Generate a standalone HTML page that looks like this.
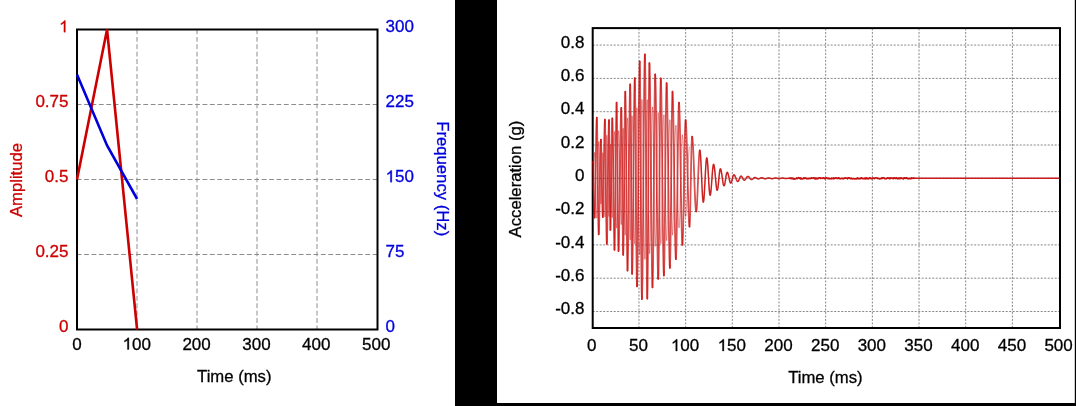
<!DOCTYPE html>
<html><head><meta charset="utf-8"><style>
html,body{margin:0;padding:0;background:#fff;}
body{width:1076px;height:406px;overflow:hidden;}
svg{display:block;font-family:"Liberation Sans", sans-serif;will-change:transform;}
</style></head><body>
<svg width="1076" height="406" viewBox="0 0 1076 406">
<defs><filter id="sb" filterUnits="userSpaceOnUse" x="0" y="0" width="1076" height="406"><feGaussianBlur stdDeviation="0.35"/></filter></defs>
<line x1="137.00" y1="29.5" x2="137.00" y2="329.5" stroke="#999" stroke-width="1.1" stroke-dasharray="4.8 2.6"/>
<line x1="197.00" y1="29.5" x2="197.00" y2="329.5" stroke="#999" stroke-width="1.1" stroke-dasharray="4.8 2.6"/>
<line x1="257.00" y1="29.5" x2="257.00" y2="329.5" stroke="#999" stroke-width="1.1" stroke-dasharray="4.8 2.6"/>
<line x1="317.00" y1="29.5" x2="317.00" y2="329.5" stroke="#999" stroke-width="1.1" stroke-dasharray="4.8 2.6"/>
<line x1="377.5" y1="254.50" x2="77.0" y2="254.50" stroke="#8c8c8c" stroke-width="1.1" stroke-dasharray="4.8 2.6"/>
<line x1="377.5" y1="179.50" x2="77.0" y2="179.50" stroke="#8c8c8c" stroke-width="1.1" stroke-dasharray="4.8 2.6"/>
<line x1="377.5" y1="104.50" x2="77.0" y2="104.50" stroke="#8c8c8c" stroke-width="1.1" stroke-dasharray="4.8 2.6"/>
<rect x="77.0" y="29.5" width="300.5" height="300.0" fill="none" stroke="#000" stroke-width="2"/>
<polyline points="77.00,179.50 107.05,29.50 137.10,329.50" fill="none" stroke="#cc0000" stroke-width="2.6"/>
<polyline points="77.00,74.50 107.05,145.50 137.10,199.00" fill="none" stroke="#0000dd" stroke-width="2.6"/>
<text x="59.05" y="332.20" fill="#cc0000" stroke="#cc0000" stroke-width="0.3" font-size="17">0</text>
<text x="35.41" y="257.20" fill="#cc0000" stroke="#cc0000" stroke-width="0.3" font-size="17">0.25</text>
<text x="44.87" y="182.20" fill="#cc0000" stroke="#cc0000" stroke-width="0.3" font-size="17">0.5</text>
<text x="35.41" y="107.20" fill="#cc0000" stroke="#cc0000" stroke-width="0.3" font-size="17">0.75</text>
<text x="59.05" y="32.20" fill="#cc0000" stroke="#cc0000" stroke-width="0.3" font-size="17"> </text>
<path d="M763 0L583 0L583 1102C540 1063 483 1023 413 983C343 944 280 914 223 895L223 1062C320 1106 404 1159 477 1221C550 1284 601 1344 631 1409L763 1409Z" transform="translate(59.05,32.20) scale(0.008301,-0.008301)" fill="#cc0000" stroke="#cc0000" stroke-width="36.1"/>
<text x="385.50" y="332.20" fill="#0000dd" stroke="#0000dd" stroke-width="0.3" font-size="17">0</text>
<text x="385.50" y="257.20" fill="#0000dd" stroke="#0000dd" stroke-width="0.3" font-size="17">75</text>
<text x="385.50" y="182.20" fill="#0000dd" stroke="#0000dd" stroke-width="0.3" font-size="17"> 50</text>
<path d="M763 0L583 0L583 1102C540 1063 483 1023 413 983C343 944 280 914 223 895L223 1062C320 1106 404 1159 477 1221C550 1284 601 1344 631 1409L763 1409Z" transform="translate(385.50,182.20) scale(0.008301,-0.008301)" fill="#0000dd" stroke="#0000dd" stroke-width="36.1"/>
<text x="385.50" y="107.20" fill="#0000dd" stroke="#0000dd" stroke-width="0.3" font-size="17">225</text>
<text x="385.50" y="32.20" fill="#0000dd" stroke="#0000dd" stroke-width="0.3" font-size="17">300</text>
<text x="72.17" y="349.50" fill="#000" stroke="#000" stroke-width="0.3" font-size="17">0</text>
<text x="122.57" y="349.50" fill="#000" stroke="#000" stroke-width="0.3" font-size="17"> 00</text>
<path d="M763 0L583 0L583 1102C540 1063 483 1023 413 983C343 944 280 914 223 895L223 1062C320 1106 404 1159 477 1221C550 1284 601 1344 631 1409L763 1409Z" transform="translate(122.57,349.50) scale(0.008301,-0.008301)" fill="#000" stroke="#000" stroke-width="36.1"/>
<text x="182.42" y="349.50" fill="#000" stroke="#000" stroke-width="0.3" font-size="17">200</text>
<text x="242.27" y="349.50" fill="#000" stroke="#000" stroke-width="0.3" font-size="17">300</text>
<text x="302.12" y="349.50" fill="#000" stroke="#000" stroke-width="0.3" font-size="17">400</text>
<text x="361.97" y="349.50" fill="#000" stroke="#000" stroke-width="0.3" font-size="17">500</text>
<text x="234.3" y="382" text-anchor="middle" fill="#000" stroke="#000" stroke-width="0.3" font-size="16.7">Time (ms)</text>
<text transform="translate(22,180) rotate(-90)" text-anchor="middle" fill="#cc0000" stroke="#cc0000" stroke-width="0.3" font-size="16.7">Amplitude</text>
<text transform="translate(437.2,178.75) rotate(90)" text-anchor="middle" fill="#0000dd" stroke="#0000dd" stroke-width="0.3" font-size="16.7">Frequency (Hz)</text>
<rect x="455" y="0" width="42" height="406" fill="#000"/>
<rect x="497" y="403" width="579" height="3" fill="#000"/>
<rect x="1074.8" y="0" width="1.2" height="406" fill="#000"/>
<line x1="638.97" y1="28.45" x2="638.97" y2="328.15" stroke="#888" stroke-width="1" stroke-dasharray="2 1.5"/>
<line x1="685.65" y1="28.45" x2="685.65" y2="328.15" stroke="#888" stroke-width="1" stroke-dasharray="2 1.5"/>
<line x1="732.32" y1="28.45" x2="732.32" y2="328.15" stroke="#888" stroke-width="1" stroke-dasharray="2 1.5"/>
<line x1="779.00" y1="28.45" x2="779.00" y2="328.15" stroke="#888" stroke-width="1" stroke-dasharray="2 1.5"/>
<line x1="825.67" y1="28.45" x2="825.67" y2="328.15" stroke="#888" stroke-width="1" stroke-dasharray="2 1.5"/>
<line x1="872.35" y1="28.45" x2="872.35" y2="328.15" stroke="#888" stroke-width="1" stroke-dasharray="2 1.5"/>
<line x1="919.02" y1="28.45" x2="919.02" y2="328.15" stroke="#888" stroke-width="1" stroke-dasharray="2 1.5"/>
<line x1="965.70" y1="28.45" x2="965.70" y2="328.15" stroke="#888" stroke-width="1" stroke-dasharray="2 1.5"/>
<line x1="1012.38" y1="28.45" x2="1012.38" y2="328.15" stroke="#888" stroke-width="1" stroke-dasharray="2 1.5"/>
<line x1="592.7" y1="311.50" x2="1059.6" y2="311.50" stroke="#888" stroke-width="1" stroke-dasharray="2 1.5"/>
<line x1="592.7" y1="278.20" x2="1059.6" y2="278.20" stroke="#888" stroke-width="1" stroke-dasharray="2 1.5"/>
<line x1="592.7" y1="244.90" x2="1059.6" y2="244.90" stroke="#888" stroke-width="1" stroke-dasharray="2 1.5"/>
<line x1="592.7" y1="211.60" x2="1059.6" y2="211.60" stroke="#888" stroke-width="1" stroke-dasharray="2 1.5"/>
<line x1="592.7" y1="178.30" x2="1059.6" y2="178.30" stroke="#888" stroke-width="1" stroke-dasharray="2 1.5"/>
<line x1="592.7" y1="145.00" x2="1059.6" y2="145.00" stroke="#888" stroke-width="1" stroke-dasharray="2 1.5"/>
<line x1="592.7" y1="111.70" x2="1059.6" y2="111.70" stroke="#888" stroke-width="1" stroke-dasharray="2 1.5"/>
<line x1="592.7" y1="78.40" x2="1059.6" y2="78.40" stroke="#888" stroke-width="1" stroke-dasharray="2 1.5"/>
<line x1="592.7" y1="45.10" x2="1059.6" y2="45.10" stroke="#888" stroke-width="1" stroke-dasharray="2 1.5"/>
<rect x="592.7" y="28.1" width="467.30" height="299.90" fill="none" stroke="#000" stroke-width="2"/>
<polyline points="592.80,189.12 593.06,187.32 593.31,182.28 593.57,174.99 593.83,166.89 594.09,159.60 594.34,154.56 594.60,152.76" fill="none" stroke="#c80a0a" stroke-opacity="0.35" stroke-width="1.2" stroke-linejoin="round" stroke-linecap="round" filter="url(#sb)"/>
<polyline points="594.60,152.76 594.88,155.23 595.15,162.27 595.42,172.80 595.70,185.23 595.98,197.65 596.25,208.18 596.52,215.22 596.80,217.69" fill="none" stroke="#c80a0a" stroke-opacity="0.35" stroke-width="1.2" stroke-linejoin="round" stroke-linecap="round" filter="url(#sb)"/>
<polyline points="596.80,217.69 597.07,213.94 597.34,203.41 597.61,188.20 597.89,171.32 598.16,156.11 598.43,145.58 598.70,141.83" fill="none" stroke="#c80a0a" stroke-opacity="0.35" stroke-width="1.2" stroke-linejoin="round" stroke-linecap="round" filter="url(#sb)"/>
<polyline points="598.70,141.83 598.98,144.18 599.25,150.86 599.52,160.87 599.80,172.67 600.08,184.48 600.35,194.48 600.62,201.17 600.90,203.52" fill="none" stroke="#c80a0a" stroke-opacity="0.35" stroke-width="1.2" stroke-linejoin="round" stroke-linecap="round" filter="url(#sb)"/>
<polyline points="600.90,203.52 601.17,201.02 601.44,194.02 601.71,183.91 601.99,172.69 602.26,162.58 602.53,155.58 602.80,153.08" fill="none" stroke="#c80a0a" stroke-opacity="0.35" stroke-width="1.2" stroke-linejoin="round" stroke-linecap="round" filter="url(#sb)"/>
<polyline points="602.80,153.08 603.06,155.49 603.32,162.36 603.59,172.63 603.85,184.74 604.11,196.85 604.38,207.12 604.64,213.99 604.90,216.40" fill="none" stroke="#c80a0a" stroke-opacity="0.35" stroke-width="1.2" stroke-linejoin="round" stroke-linecap="round" filter="url(#sb)"/>
<polyline points="604.90,216.40 605.17,212.40 605.44,201.20 605.71,185.01 605.99,167.04 606.26,150.86 606.53,139.66 606.80,135.66" fill="none" stroke="#c80a0a" stroke-opacity="0.35" stroke-width="1.2" stroke-linejoin="round" stroke-linecap="round" filter="url(#sb)"/>
<polyline points="606.80,135.66 607.07,138.72 607.35,147.44 607.62,160.48 607.90,175.86 608.17,191.25 608.45,204.29 608.73,213.01 609.00,216.07" fill="none" stroke="#c80a0a" stroke-opacity="0.35" stroke-width="1.2" stroke-linejoin="round" stroke-linecap="round" filter="url(#sb)"/>
<polyline points="609.00,216.07 609.28,209.26 609.56,191.43 609.84,169.39 610.12,151.56 610.40,144.75" fill="none" stroke="#c80a0a" stroke-opacity="0.35" stroke-width="1.2" stroke-linejoin="round" stroke-linecap="round" filter="url(#sb)"/>
<polyline points="610.40,144.75 610.67,148.34 610.94,158.40 611.21,172.94 611.49,189.07 611.76,203.61 612.03,213.67 612.30,217.26" fill="none" stroke="#c80a0a" stroke-opacity="0.35" stroke-width="1.2" stroke-linejoin="round" stroke-linecap="round" filter="url(#sb)"/>
<polyline points="612.30,217.26 612.57,214.01 612.85,204.74 613.12,190.87 613.40,174.51 613.67,158.15 613.95,144.28 614.23,135.02 614.50,131.76" fill="none" stroke="#c80a0a" stroke-opacity="0.35" stroke-width="1.2" stroke-linejoin="round" stroke-linecap="round" filter="url(#sb)"/>
<polyline points="614.50,131.76 614.76,135.41 615.02,145.79 615.29,161.33 615.55,179.65 615.81,197.98 616.08,213.52 616.34,223.90 616.60,227.54" fill="none" stroke="#c80a0a" stroke-opacity="0.35" stroke-width="1.2" stroke-linejoin="round" stroke-linecap="round" filter="url(#sb)"/>
<polyline points="616.60,227.54 616.87,222.76 617.14,209.37 617.41,190.01 617.69,168.53 617.96,149.18 618.23,135.79 618.50,131.01" fill="none" stroke="#c80a0a" stroke-opacity="0.35" stroke-width="1.2" stroke-linejoin="round" stroke-linecap="round" filter="url(#sb)"/>
<polyline points="618.50,131.01 618.75,132.89 619.01,138.39 619.26,147.07 619.52,158.21 619.77,170.92 620.03,184.17 620.28,196.87 620.54,208.02 620.79,216.69 621.05,222.19 621.30,224.08" fill="none" stroke="#c80a0a" stroke-opacity="0.35" stroke-width="1.2" stroke-linejoin="round" stroke-linecap="round" filter="url(#sb)"/>
<polyline points="621.30,224.08 621.57,219.35 621.84,206.09 622.11,186.93 622.39,165.67 622.66,146.51 622.93,133.25 623.20,128.52" fill="none" stroke="#c80a0a" stroke-opacity="0.35" stroke-width="1.2" stroke-linejoin="round" stroke-linecap="round" filter="url(#sb)"/>
<polyline points="623.20,128.52 623.46,132.56 623.73,144.06 623.99,161.29 624.25,181.60 624.51,201.92 624.77,219.14 625.04,230.64 625.30,234.69" fill="none" stroke="#c80a0a" stroke-opacity="0.35" stroke-width="1.2" stroke-linejoin="round" stroke-linecap="round" filter="url(#sb)"/>
<polyline points="625.30,234.69 625.57,230.25 625.85,217.63 626.12,198.74 626.40,176.46 626.67,154.18 626.95,135.29 627.23,122.67 627.50,118.24" fill="none" stroke="#c80a0a" stroke-opacity="0.35" stroke-width="1.2" stroke-linejoin="round" stroke-linecap="round" filter="url(#sb)"/>
<polyline points="627.50,118.24 627.77,121.20 628.04,129.81 628.31,143.22 628.58,160.11 628.85,178.84 629.12,197.57 629.39,214.46 629.66,227.87 629.93,236.48 630.20,239.45" fill="none" stroke="#c80a0a" stroke-opacity="0.35" stroke-width="1.2" stroke-linejoin="round" stroke-linecap="round" filter="url(#sb)"/>
<polyline points="630.20,239.45 630.47,233.34 630.74,216.24 631.01,191.53 631.29,164.10 631.56,139.38 631.83,122.28 632.10,116.18" fill="none" stroke="#c80a0a" stroke-opacity="0.35" stroke-width="1.2" stroke-linejoin="round" stroke-linecap="round" filter="url(#sb)"/>
<polyline points="632.10,116.18 632.37,119.29 632.64,128.33 632.91,142.41 633.18,160.15 633.45,179.82 633.72,199.48 633.99,217.22 634.26,231.30 634.53,240.34 634.80,243.45" fill="none" stroke="#c80a0a" stroke-opacity="0.35" stroke-width="1.2" stroke-linejoin="round" stroke-linecap="round" filter="url(#sb)"/>
<polyline points="634.80,243.45 635.07,238.30 635.35,223.62 635.62,201.66 635.90,175.76 636.17,149.85 636.45,127.89 636.73,113.21 637.00,108.06" fill="none" stroke="#c80a0a" stroke-opacity="0.35" stroke-width="1.2" stroke-linejoin="round" stroke-linecap="round" filter="url(#sb)"/>
<polyline points="637.00,108.06 637.27,111.64 637.54,122.03 637.81,138.22 638.08,158.61 638.35,181.22 638.62,203.83 638.89,224.22 639.16,240.41 639.43,250.80 639.70,254.38" fill="none" stroke="#c80a0a" stroke-opacity="0.35" stroke-width="1.2" stroke-linejoin="round" stroke-linecap="round" filter="url(#sb)"/>
<polyline points="639.70,254.38 639.98,248.50 640.25,231.73 640.52,206.65 640.80,177.06 641.08,147.46 641.35,122.38 641.62,105.61 641.90,99.73" fill="none" stroke="#c80a0a" stroke-opacity="0.35" stroke-width="1.2" stroke-linejoin="round" stroke-linecap="round" filter="url(#sb)"/>
<polyline points="641.90,99.73 642.15,102.44 642.40,110.39 642.65,123.03 642.90,139.50 643.15,158.69 643.40,179.27 643.65,199.86 643.90,219.05 644.15,235.52 644.40,248.16 644.65,256.11 644.90,258.82" fill="none" stroke="#c80a0a" stroke-opacity="0.35" stroke-width="1.2" stroke-linejoin="round" stroke-linecap="round" filter="url(#sb)"/>
<polyline points="644.90,258.82 645.17,254.03 645.43,240.25 645.70,219.13 645.97,193.22 646.23,165.65 646.50,139.74 646.77,118.63 647.03,104.84 647.30,100.05" fill="none" stroke="#c80a0a" stroke-opacity="0.35" stroke-width="1.2" stroke-linejoin="round" stroke-linecap="round" filter="url(#sb)"/>
<polyline points="647.30,100.05 647.56,105.88 647.82,122.48 648.09,147.32 648.35,176.62 648.61,205.92 648.88,230.77 649.14,247.36 649.40,253.19" fill="none" stroke="#c80a0a" stroke-opacity="0.35" stroke-width="1.2" stroke-linejoin="round" stroke-linecap="round" filter="url(#sb)"/>
<polyline points="649.40,253.19 649.66,250.71 649.92,243.42 650.17,231.83 650.43,216.72 650.69,199.13 650.95,180.25 651.21,161.37 651.47,143.78 651.73,128.67 651.98,117.08 652.24,109.79 652.50,107.30" fill="none" stroke="#c80a0a" stroke-opacity="0.35" stroke-width="1.2" stroke-linejoin="round" stroke-linecap="round" filter="url(#sb)"/>
<polyline points="652.50,107.30 652.77,110.69 653.04,120.53 653.31,135.86 653.58,155.16 653.85,176.57 654.12,197.97 654.39,217.28 654.66,232.60 654.93,242.44 655.20,245.83" fill="none" stroke="#c80a0a" stroke-opacity="0.35" stroke-width="1.2" stroke-linejoin="round" stroke-linecap="round" filter="url(#sb)"/>
<polyline points="655.20,245.83 655.45,243.57 655.70,236.93 655.95,226.37 656.20,212.61 656.45,196.58 656.70,179.38 656.95,162.18 657.20,146.16 657.45,132.39 657.70,121.83 657.95,115.20 658.20,112.93" fill="none" stroke="#c80a0a" stroke-opacity="0.35" stroke-width="1.2" stroke-linejoin="round" stroke-linecap="round" filter="url(#sb)"/>
<polyline points="658.20,112.93 658.46,116.12 658.72,125.37 658.98,139.79 659.24,157.95 659.50,178.08 659.76,198.22 660.02,216.38 660.28,230.79 660.54,240.05 660.80,243.24" fill="none" stroke="#c80a0a" stroke-opacity="0.35" stroke-width="1.2" stroke-linejoin="round" stroke-linecap="round" filter="url(#sb)"/>
<polyline points="660.80,243.24 661.06,241.05 661.32,234.65 661.57,224.47 661.83,211.20 662.09,195.75 662.35,179.17 662.61,162.58 662.87,147.13 663.12,133.86 663.38,123.68 663.64,117.28 663.90,115.10" fill="none" stroke="#c80a0a" stroke-opacity="0.35" stroke-width="1.2" stroke-linejoin="round" stroke-linecap="round" filter="url(#sb)"/>
<polyline points="663.90,115.10 664.17,118.16 664.44,127.04 664.71,140.88 664.98,158.32 665.25,177.65 665.52,196.98 665.79,214.42 666.06,228.26 666.33,237.14 666.60,240.20" fill="none" stroke="#c80a0a" stroke-opacity="0.35" stroke-width="1.2" stroke-linejoin="round" stroke-linecap="round" filter="url(#sb)"/>
<polyline points="666.60,240.20 666.85,238.46 667.11,233.32 667.36,225.10 667.62,214.26 667.87,201.44 668.12,187.38 668.38,172.90 668.63,158.84 668.88,146.02 669.14,135.18 669.39,126.96 669.65,121.82 669.90,120.07" fill="none" stroke="#c80a0a" stroke-opacity="0.35" stroke-width="1.2" stroke-linejoin="round" stroke-linecap="round" filter="url(#sb)"/>
<polyline points="669.90,120.07 670.16,122.88 670.42,131.01 670.68,143.67 670.94,159.63 671.20,177.33 671.46,195.02 671.72,210.98 671.98,223.64 672.24,231.77 672.50,234.58" fill="none" stroke="#c80a0a" stroke-opacity="0.35" stroke-width="1.2" stroke-linejoin="round" stroke-linecap="round" filter="url(#sb)"/>
<polyline points="672.50,234.58 672.76,233.00 673.02,228.34 673.28,220.89 673.55,211.06 673.81,199.44 674.07,186.70 674.33,173.58 674.59,160.84 674.85,149.22 675.12,139.39 675.38,131.94 675.64,127.28 675.90,125.70" fill="none" stroke="#c80a0a" stroke-opacity="0.35" stroke-width="1.2" stroke-linejoin="round" stroke-linecap="round" filter="url(#sb)"/>
<polyline points="675.90,125.70 676.16,127.44 676.42,132.52 676.67,140.60 676.93,151.14 677.19,163.40 677.45,176.57 677.71,189.73 677.97,202.00 678.23,212.54 678.48,220.62 678.74,225.70 679.00,227.43" fill="none" stroke="#c80a0a" stroke-opacity="0.35" stroke-width="1.2" stroke-linejoin="round" stroke-linecap="round" filter="url(#sb)"/>
<polyline points="679.00,227.43 679.26,226.09 679.52,222.14 679.78,215.81 680.05,207.47 680.31,197.61 680.57,186.79 680.83,175.65 681.09,164.84 681.35,154.97 681.62,146.63 681.88,140.30 682.14,136.35 682.40,135.01" fill="none" stroke="#c80a0a" stroke-opacity="0.35" stroke-width="1.2" stroke-linejoin="round" stroke-linecap="round" filter="url(#sb)"/>
<polyline points="682.40,135.01 682.67,136.39 682.93,140.45 683.20,146.90 683.47,155.30 683.73,165.09 684.00,175.59 684.27,186.10 684.53,195.89 684.80,204.29 685.07,210.74 685.33,214.80 685.60,216.18" fill="none" stroke="#c80a0a" stroke-opacity="0.35" stroke-width="1.2" stroke-linejoin="round" stroke-linecap="round" filter="url(#sb)"/>
<polyline points="685.60,216.18 685.86,215.42 686.12,213.18 686.38,209.56 686.64,204.72 686.90,198.86 687.16,192.25 687.42,185.17 687.68,177.93 687.94,170.84 688.20,164.23 688.46,158.37 688.72,153.53 688.98,149.91 689.24,147.67 689.50,146.91" fill="none" stroke="#c80a0a" stroke-opacity="0.35" stroke-width="1.2" stroke-linejoin="round" stroke-linecap="round" filter="url(#sb)"/>
<polyline points="592.80,161.65 593.06,164.42 593.31,172.18 593.57,183.40 593.83,195.85 594.09,207.06 594.34,214.82 594.60,217.59" fill="none" stroke="#c80a0a" stroke-opacity="0.72" stroke-width="1.7" stroke-linejoin="round" stroke-linecap="round" filter="url(#sb)"/>
<polyline points="594.60,217.59 594.88,213.79 595.15,202.96 595.42,186.76 595.70,167.64 595.98,148.53 596.25,132.32 596.52,121.50 596.80,117.69" fill="none" stroke="#c80a0a" stroke-opacity="0.72" stroke-width="1.7" stroke-linejoin="round" stroke-linecap="round" filter="url(#sb)"/>
<polyline points="596.80,117.69 597.07,123.47 597.34,139.67 597.61,163.07 597.89,189.04 598.16,212.44 598.43,228.63 598.70,234.41" fill="none" stroke="#c80a0a" stroke-opacity="0.72" stroke-width="1.7" stroke-linejoin="round" stroke-linecap="round" filter="url(#sb)"/>
<polyline points="598.70,234.41 598.98,230.80 599.25,220.51 599.52,205.12 599.80,186.96 600.08,168.80 600.35,153.40 600.62,143.12 600.90,139.51" fill="none" stroke="#c80a0a" stroke-opacity="0.72" stroke-width="1.7" stroke-linejoin="round" stroke-linecap="round" filter="url(#sb)"/>
<polyline points="600.90,139.51 601.17,143.35 601.44,154.11 601.71,169.67 601.99,186.93 602.26,202.49 602.53,213.25 602.80,217.09" fill="none" stroke="#c80a0a" stroke-opacity="0.72" stroke-width="1.7" stroke-linejoin="round" stroke-linecap="round" filter="url(#sb)"/>
<polyline points="602.80,217.09 603.06,213.39 603.32,202.83 603.59,187.03 603.85,168.39 604.11,149.76 604.38,133.96 604.64,123.40 604.90,119.69" fill="none" stroke="#c80a0a" stroke-opacity="0.72" stroke-width="1.7" stroke-linejoin="round" stroke-linecap="round" filter="url(#sb)"/>
<polyline points="604.90,119.69 605.17,125.84 605.44,143.07 605.71,167.98 605.99,195.62 606.26,220.52 606.53,237.75 606.80,243.90" fill="none" stroke="#c80a0a" stroke-opacity="0.72" stroke-width="1.7" stroke-linejoin="round" stroke-linecap="round" filter="url(#sb)"/>
<polyline points="606.80,243.90 607.07,239.19 607.35,225.78 607.62,205.72 607.90,182.05 608.17,158.38 608.45,138.31 608.73,124.90 609.00,120.19" fill="none" stroke="#c80a0a" stroke-opacity="0.72" stroke-width="1.7" stroke-linejoin="round" stroke-linecap="round" filter="url(#sb)"/>
<polyline points="609.00,120.19 609.28,130.67 609.56,158.10 609.84,192.01 610.12,219.44 610.40,229.92" fill="none" stroke="#c80a0a" stroke-opacity="0.72" stroke-width="1.7" stroke-linejoin="round" stroke-linecap="round" filter="url(#sb)"/>
<polyline points="610.40,229.92 610.67,224.39 610.94,208.91 611.21,186.55 611.49,161.73 611.76,139.36 612.03,123.88 612.30,118.36" fill="none" stroke="#c80a0a" stroke-opacity="0.72" stroke-width="1.7" stroke-linejoin="round" stroke-linecap="round" filter="url(#sb)"/>
<polyline points="612.30,118.36 612.57,123.37 612.85,137.62 613.12,158.96 613.40,184.13 613.67,209.30 613.95,230.63 614.23,244.89 614.50,249.90" fill="none" stroke="#c80a0a" stroke-opacity="0.72" stroke-width="1.7" stroke-linejoin="round" stroke-linecap="round" filter="url(#sb)"/>
<polyline points="614.50,249.90 614.76,244.29 615.02,228.32 615.29,204.41 615.55,176.22 615.81,148.02 616.08,124.12 616.34,108.15 616.60,102.54" fill="none" stroke="#c80a0a" stroke-opacity="0.72" stroke-width="1.7" stroke-linejoin="round" stroke-linecap="round" filter="url(#sb)"/>
<polyline points="616.60,102.54 616.87,109.90 617.14,130.50 617.41,160.28 617.69,193.33 617.96,223.10 618.23,243.71 618.50,251.06" fill="none" stroke="#c80a0a" stroke-opacity="0.72" stroke-width="1.7" stroke-linejoin="round" stroke-linecap="round" filter="url(#sb)"/>
<polyline points="618.50,251.06 618.75,248.16 619.01,239.70 619.26,226.35 619.52,209.21 619.77,189.65 620.03,169.28 620.28,149.72 620.54,132.58 620.79,119.24 621.05,110.77 621.30,107.87" fill="none" stroke="#c80a0a" stroke-opacity="0.72" stroke-width="1.7" stroke-linejoin="round" stroke-linecap="round" filter="url(#sb)"/>
<polyline points="621.30,107.87 621.57,115.15 621.84,135.55 622.11,165.02 622.39,197.74 622.66,227.21 622.93,247.61 623.20,254.89" fill="none" stroke="#c80a0a" stroke-opacity="0.72" stroke-width="1.7" stroke-linejoin="round" stroke-linecap="round" filter="url(#sb)"/>
<polyline points="623.20,254.89 623.46,248.67 623.73,230.97 623.99,204.47 624.25,173.22 624.51,141.97 624.77,115.47 625.04,97.77 625.30,91.55" fill="none" stroke="#c80a0a" stroke-opacity="0.72" stroke-width="1.7" stroke-linejoin="round" stroke-linecap="round" filter="url(#sb)"/>
<polyline points="625.30,91.55 625.57,98.37 625.85,117.79 626.12,146.85 626.40,181.13 626.67,215.41 626.95,244.47 627.23,263.89 627.50,270.71" fill="none" stroke="#c80a0a" stroke-opacity="0.72" stroke-width="1.7" stroke-linejoin="round" stroke-linecap="round" filter="url(#sb)"/>
<polyline points="627.50,270.71 627.77,266.14 628.04,252.90 628.31,232.27 628.58,206.28 628.85,177.47 629.12,148.65 629.39,122.66 629.66,102.03 629.93,88.79 630.20,84.23" fill="none" stroke="#c80a0a" stroke-opacity="0.72" stroke-width="1.7" stroke-linejoin="round" stroke-linecap="round" filter="url(#sb)"/>
<polyline points="630.20,84.23 630.47,93.62 630.74,119.93 631.01,157.95 631.29,200.15 631.56,238.17 631.83,264.48 632.10,273.87" fill="none" stroke="#c80a0a" stroke-opacity="0.72" stroke-width="1.7" stroke-linejoin="round" stroke-linecap="round" filter="url(#sb)"/>
<polyline points="632.10,273.87 632.37,269.08 632.64,255.17 632.91,233.51 633.18,206.22 633.45,175.97 633.72,145.72 633.99,118.42 634.26,96.76 634.53,82.86 634.80,78.07" fill="none" stroke="#c80a0a" stroke-opacity="0.72" stroke-width="1.7" stroke-linejoin="round" stroke-linecap="round" filter="url(#sb)"/>
<polyline points="634.80,78.07 635.07,85.99 635.35,108.57 635.62,142.36 635.90,182.21 636.17,222.07 636.45,255.85 636.73,278.43 637.00,286.36" fill="none" stroke="#c80a0a" stroke-opacity="0.72" stroke-width="1.7" stroke-linejoin="round" stroke-linecap="round" filter="url(#sb)"/>
<polyline points="637.00,286.36 637.27,280.85 637.54,264.86 637.81,239.96 638.08,208.59 638.35,173.80 638.62,139.02 638.89,107.65 639.16,82.75 639.43,66.76 639.70,61.25" fill="none" stroke="#c80a0a" stroke-opacity="0.72" stroke-width="1.7" stroke-linejoin="round" stroke-linecap="round" filter="url(#sb)"/>
<polyline points="639.70,61.25 639.98,70.31 640.25,96.09 640.52,134.69 640.80,180.21 641.08,225.74 641.35,264.34 641.62,290.12 641.90,299.18" fill="none" stroke="#c80a0a" stroke-opacity="0.72" stroke-width="1.7" stroke-linejoin="round" stroke-linecap="round" filter="url(#sb)"/>
<polyline points="641.90,299.18 642.15,295.01 642.40,282.78 642.65,263.34 642.90,237.99 643.15,208.48 643.40,176.80 643.65,145.13 643.90,115.61 644.15,90.27 644.40,70.82 644.65,58.59 644.90,54.42" fill="none" stroke="#c80a0a" stroke-opacity="0.72" stroke-width="1.7" stroke-linejoin="round" stroke-linecap="round" filter="url(#sb)"/>
<polyline points="644.90,54.42 645.17,61.79 645.43,83.00 645.70,115.49 645.97,155.34 646.23,197.76 646.50,237.62 646.77,270.11 647.03,291.31 647.30,298.68" fill="none" stroke="#c80a0a" stroke-opacity="0.72" stroke-width="1.7" stroke-linejoin="round" stroke-linecap="round" filter="url(#sb)"/>
<polyline points="647.30,298.68 647.56,289.71 647.82,264.18 648.09,225.96 648.35,180.88 648.61,135.80 648.88,97.58 649.14,72.05 649.40,63.08" fill="none" stroke="#c80a0a" stroke-opacity="0.72" stroke-width="1.7" stroke-linejoin="round" stroke-linecap="round" filter="url(#sb)"/>
<polyline points="649.40,63.08 649.66,66.91 649.92,78.12 650.17,95.95 650.43,119.19 650.69,146.26 650.95,175.30 651.21,204.35 651.47,231.41 651.73,254.66 651.98,272.49 652.24,283.70 652.50,287.52" fill="none" stroke="#c80a0a" stroke-opacity="0.72" stroke-width="1.7" stroke-linejoin="round" stroke-linecap="round" filter="url(#sb)"/>
<polyline points="652.50,287.52 652.77,282.31 653.04,267.17 653.31,243.60 653.58,213.89 653.85,180.96 654.12,148.04 654.39,118.33 654.66,94.76 654.93,79.62 655.20,74.40" fill="none" stroke="#c80a0a" stroke-opacity="0.72" stroke-width="1.7" stroke-linejoin="round" stroke-linecap="round" filter="url(#sb)"/>
<polyline points="655.20,74.40 655.45,77.89 655.70,88.10 655.95,104.35 656.20,125.52 656.45,150.18 656.70,176.63 656.95,203.09 657.20,227.75 657.45,248.92 657.70,265.17 657.95,275.38 658.20,278.87" fill="none" stroke="#c80a0a" stroke-opacity="0.72" stroke-width="1.7" stroke-linejoin="round" stroke-linecap="round" filter="url(#sb)"/>
<polyline points="658.20,278.87 658.46,273.96 658.72,259.72 658.98,237.55 659.24,209.61 659.50,178.63 659.76,147.66 660.02,119.72 660.28,97.54 660.54,83.31 660.80,78.40" fill="none" stroke="#c80a0a" stroke-opacity="0.72" stroke-width="1.7" stroke-linejoin="round" stroke-linecap="round" filter="url(#sb)"/>
<polyline points="660.80,78.40 661.06,81.76 661.32,91.61 661.57,107.27 661.83,127.68 662.09,151.46 662.35,176.97 662.61,202.48 662.87,226.25 663.12,246.67 663.38,262.33 663.64,272.18 663.90,275.54" fill="none" stroke="#c80a0a" stroke-opacity="0.72" stroke-width="1.7" stroke-linejoin="round" stroke-linecap="round" filter="url(#sb)"/>
<polyline points="663.90,275.54 664.17,270.83 664.44,257.16 664.71,235.87 664.98,209.04 665.25,179.30 665.52,149.56 665.79,122.73 666.06,101.44 666.33,87.77 666.60,83.06" fill="none" stroke="#c80a0a" stroke-opacity="0.72" stroke-width="1.7" stroke-linejoin="round" stroke-linecap="round" filter="url(#sb)"/>
<polyline points="666.60,83.06 666.85,85.75 667.11,93.65 667.36,106.30 667.62,122.98 667.87,142.70 668.12,164.33 668.38,186.61 668.63,208.24 668.88,227.96 669.14,244.64 669.39,257.29 669.65,265.19 669.90,267.88" fill="none" stroke="#c80a0a" stroke-opacity="0.72" stroke-width="1.7" stroke-linejoin="round" stroke-linecap="round" filter="url(#sb)"/>
<polyline points="669.90,267.88 670.16,263.57 670.42,251.06 670.68,231.57 670.94,207.02 671.20,179.80 671.46,152.58 671.72,128.03 671.98,108.54 672.24,96.03 672.50,91.72" fill="none" stroke="#c80a0a" stroke-opacity="0.72" stroke-width="1.7" stroke-linejoin="round" stroke-linecap="round" filter="url(#sb)"/>
<polyline points="672.50,91.72 672.76,94.15 673.02,101.31 673.28,112.78 673.55,127.89 673.81,145.77 674.07,165.37 674.33,185.56 674.59,205.17 674.85,223.04 675.12,238.16 675.38,249.63 675.64,256.79 675.90,259.22" fill="none" stroke="#c80a0a" stroke-opacity="0.72" stroke-width="1.7" stroke-linejoin="round" stroke-linecap="round" filter="url(#sb)"/>
<polyline points="675.90,259.22 676.16,256.55 676.42,248.73 676.67,236.30 676.93,220.09 677.19,201.22 677.45,180.96 677.71,160.71 677.97,141.84 678.23,125.63 678.48,113.19 678.74,105.38 679.00,102.71" fill="none" stroke="#c80a0a" stroke-opacity="0.72" stroke-width="1.7" stroke-linejoin="round" stroke-linecap="round" filter="url(#sb)"/>
<polyline points="679.00,102.71 679.26,104.77 679.52,110.85 679.78,120.59 680.05,133.42 680.31,148.59 680.57,165.23 680.83,182.37 681.09,199.02 681.35,214.19 681.62,227.02 681.88,236.76 682.14,242.83 682.40,244.90" fill="none" stroke="#c80a0a" stroke-opacity="0.72" stroke-width="1.7" stroke-linejoin="round" stroke-linecap="round" filter="url(#sb)"/>
<polyline points="682.40,244.90 682.67,242.77 682.93,236.53 683.20,226.61 683.47,213.68 683.73,198.62 684.00,182.46 684.27,166.30 684.53,151.24 684.80,138.31 685.07,128.39 685.33,122.15 685.60,120.03" fill="none" stroke="#c80a0a" stroke-opacity="0.72" stroke-width="1.7" stroke-linejoin="round" stroke-linecap="round" filter="url(#sb)"/>
<polyline points="685.60,120.03 685.86,121.19 686.12,124.63 686.38,130.20 686.64,137.65 686.90,146.67 687.16,156.84 687.42,167.74 687.68,178.87 687.94,189.77 688.20,199.94 688.46,208.96 688.72,216.41 688.98,221.98 689.24,225.42 689.50,226.59" fill="none" stroke="#c80a0a" stroke-opacity="0.72" stroke-width="1.7" stroke-linejoin="round" stroke-linecap="round" filter="url(#sb)"/>
<polyline points="689.50,226.59 689.76,224.38 690.02,218.00 690.28,208.05 690.54,195.52 690.80,181.63 691.06,167.74 691.32,155.21 691.58,145.26 691.84,138.88 692.10,136.68" fill="none" stroke="#c80a0a" stroke-opacity="0.72" stroke-width="1.7" stroke-linejoin="round" stroke-linecap="round" filter="url(#sb)"/>
<polyline points="692.10,136.68 692.36,137.39 692.61,139.52 692.87,142.97 693.12,147.62 693.38,153.29 693.64,159.75 693.89,166.76 694.15,174.05 694.41,181.35 694.66,188.36 694.92,194.82 695.18,200.49 695.43,205.13 695.69,208.59 695.94,210.72 696.20,211.43" fill="none" stroke="#c80a0a" stroke-opacity="0.72" stroke-width="1.7" stroke-linejoin="round" stroke-linecap="round" filter="url(#sb)"/>
<polyline points="696.20,211.43 696.46,210.67 696.71,208.41 696.97,204.77 697.23,199.93 697.49,194.14 697.74,187.68 698.00,180.88 698.26,174.08 698.51,167.62 698.77,161.83 699.03,156.99 699.29,153.35 699.54,151.09 699.80,150.33" fill="none" stroke="#c80a0a" stroke-opacity="0.72" stroke-width="1.7" stroke-linejoin="round" stroke-linecap="round" filter="url(#sb)"/>
<polyline points="699.80,150.33 700.05,150.98 700.30,152.89 700.55,155.98 700.80,160.08 701.05,164.99 701.30,170.46 701.55,176.22 701.80,181.98 702.05,187.45 702.30,192.36 702.55,196.46 702.80,199.55 703.05,201.46 703.30,202.11 703.55,201.55 703.80,199.92 704.05,197.28 704.30,193.77 704.55,189.57 704.80,184.89 705.05,179.97 705.30,175.04 705.55,170.36 705.80,166.16 706.05,162.65 706.30,160.01 706.55,158.38 706.80,157.82 707.05,158.36 707.31,159.97 707.56,162.53 707.82,165.91 708.07,169.91 708.32,174.29 708.58,178.81 708.83,183.19 709.08,187.19 709.34,190.57 709.59,193.14 709.85,194.74 710.10,195.28 710.35,194.89 710.60,193.75 710.85,191.90 711.10,189.45 711.35,186.52 711.60,183.24 711.85,179.80 712.10,176.35 712.35,173.08 712.60,170.14 712.85,167.69 713.10,165.85 713.35,164.70 713.60,164.31 713.86,164.64 714.11,165.60 714.37,167.15 714.63,169.20 714.89,171.67 715.14,174.41 715.40,177.30 715.66,180.19 715.91,182.94 716.17,185.40 716.43,187.45 716.69,189.00 716.94,189.96 717.20,190.29 717.47,189.92 717.73,188.85 718.00,187.14 718.27,184.92 718.53,182.33 718.80,179.55 719.07,176.77 719.33,174.18 719.60,171.95 719.87,170.25 720.13,169.18 720.40,168.81 720.66,169.02 720.91,169.65 721.17,170.66 721.43,172.01 721.69,173.62 721.94,175.41 722.20,177.30 722.46,179.19 722.71,180.99 722.97,182.60 723.23,183.94 723.49,184.95 723.74,185.58 724.00,185.79 724.27,185.56 724.53,184.89 724.80,183.82 725.07,182.42 725.33,180.79 725.60,179.05 725.87,177.30 726.13,175.68 726.40,174.28 726.67,173.21 726.93,172.54 727.20,172.31 727.45,172.44 727.70,172.84 727.95,173.48 728.20,174.34 728.45,175.36 728.70,176.50 728.95,177.70 729.20,178.90 729.45,180.04 729.70,181.07 729.95,181.92 730.20,182.57 730.45,182.96 730.70,183.10 730.97,182.96 731.23,182.54 731.50,181.88 731.77,181.03 732.03,180.02 732.30,178.95 732.57,177.88 732.83,176.88 733.10,176.02 733.37,175.36 733.63,174.94 733.90,174.80 734.16,174.87 734.42,175.09 734.68,175.44 734.94,175.91 735.20,176.48 735.46,177.11 735.72,177.80 735.98,178.50 736.24,179.19 736.50,179.83 736.76,180.39 737.02,180.86 737.28,181.21 737.54,181.43 737.80,181.50 738.07,181.41 738.33,181.14 738.60,180.71 738.87,180.15 739.13,179.50 739.40,178.80 739.67,178.10 739.93,177.45 740.20,176.89 740.47,176.46 740.73,176.19 741.00,176.10 741.25,176.16 741.51,176.33 741.76,176.62 742.02,176.99 742.27,177.42 742.52,177.90 742.78,178.40 743.03,178.88 743.28,179.31 743.54,179.68 743.79,179.97 744.05,180.14 744.30,180.20 744.56,180.15 744.81,180.01 745.07,179.79 745.33,179.48 745.59,179.12 745.84,178.72 746.10,178.30 746.36,177.88 746.61,177.48 746.87,177.12 747.13,176.81 747.39,176.59 747.64,176.45 747.90,176.40 748.16,176.44 748.41,176.56 748.67,176.75 748.93,177.00 749.19,177.31 749.44,177.64 749.70,178.00 749.96,178.36 750.21,178.69 750.47,179.00 750.73,179.25 750.99,179.44 751.24,179.56 751.50,179.60 751.75,179.57 752.00,179.50 752.25,179.37 752.50,179.20 752.75,179.01 753.00,178.78 753.25,178.55 753.50,178.32 753.75,178.09 754.00,177.90 754.25,177.73 754.50,177.60 754.75,177.53 755.00,177.50 755.25,177.52 755.51,177.58 755.76,177.68 756.02,177.80 756.27,177.95 756.52,178.12 756.78,178.28 757.03,178.45 757.28,178.60 757.54,178.72 757.79,178.82 758.05,178.88 758.30,178.90 758.56,178.88 758.81,178.84 759.07,178.77 759.33,178.67 759.59,178.56 759.84,178.43 760.10,178.30 760.36,178.17 760.61,178.04 760.87,177.93 761.13,177.83 761.39,177.76 761.64,177.72 761.90,177.70 762.17,177.72 762.43,177.77 762.70,177.86 762.97,177.98 763.23,178.11 763.50,178.25 763.77,178.39 764.03,178.53 764.30,178.64 764.57,178.73 764.83,178.78 765.10,178.80 765.36,178.79 765.61,178.76 765.87,178.70 766.13,178.63 766.39,178.55 766.64,178.45 766.90,178.35 767.16,178.25 767.41,178.15 767.67,178.07 767.93,178.00 768.19,177.94 768.44,177.91 768.70,177.90 768.95,177.91 769.21,177.95 769.46,178.00 769.72,178.07 769.97,178.16 770.22,178.25 770.48,178.35 770.73,178.44 770.98,178.53 771.24,178.60 771.49,178.65 771.75,178.69 772.00,178.70 772.25,178.69 772.50,178.67 772.75,178.62 773.00,178.57 773.25,178.50 773.50,178.43 773.75,178.35 774.00,178.27 774.25,178.20 774.50,178.13 774.75,178.08 775.00,178.03 775.25,178.01 775.50,178.00 775.75,178.01 776.00,178.03 776.25,178.07 776.50,178.11 776.75,178.17 777.00,178.23 777.25,178.30 777.50,178.37 777.75,178.43 778.00,178.49 778.25,178.53 778.50,178.57 778.75,178.59 779.00,178.60 779.25,178.59 779.50,178.57 779.75,178.54 780.00,178.50 780.25,178.44 780.50,178.39 780.75,178.33 781.00,178.26 781.25,178.21 781.50,178.15 781.75,178.11 782.00,178.08 782.25,178.06 782.50,178.05 782.75,178.06 783.00,178.07 783.25,178.10 783.50,178.14 783.75,178.19 784.00,178.24 784.25,178.30 784.50,178.36 784.75,178.41 785.00,178.46 785.25,178.50 785.50,178.53 785.75,178.54 786.00,178.55 786.25,178.54 786.50,178.53 786.75,178.50 787.00,178.47 787.25,178.42 787.50,178.38 787.75,178.33 788.00,178.27 788.25,178.23 788.50,178.18 788.75,178.15 789.00,178.12 789.25,178.11 789.50,178.10" fill="none" stroke="#c80a0a" stroke-opacity="0.92" stroke-width="1.5" stroke-linejoin="round" stroke-linecap="round" filter="url(#sb)"/>
<polyline points="789.50,178.10 790.00,178.40 790.50,178.52 791.00,177.88 791.50,178.57 792.00,178.06 792.50,178.35 793.00,178.83 793.50,178.40 794.00,179.05 794.50,178.62 795.00,179.06 795.50,178.99 796.00,178.50 796.50,177.91 797.00,178.64 797.50,178.44 798.00,177.90 798.50,177.52 799.00,178.01 799.50,178.32 800.00,177.73 800.50,178.95 801.00,178.07 801.50,178.80 802.00,178.97 802.50,178.95 803.00,178.64 803.50,177.92 804.00,178.57 804.50,178.01 805.00,177.89 805.50,178.21 806.00,178.05 806.50,178.72 807.00,178.83 807.50,178.76 808.00,178.28 808.50,178.63 809.00,178.77 809.50,178.39 810.00,178.46 810.50,178.54 811.00,177.84 811.50,177.87 812.00,178.36 812.50,177.97 813.00,178.07 813.50,177.74 814.00,178.02 814.50,178.66 815.00,177.92 815.50,179.00 816.00,178.64 816.50,178.19 817.00,178.83 817.50,178.31 818.00,178.74 818.50,177.90 819.00,177.74 819.50,177.97 820.00,177.85 820.50,178.52 821.00,178.07 821.50,178.19 822.00,178.20 822.50,178.35 823.00,177.89 823.50,177.77 824.00,178.33 824.50,178.10 825.00,178.83 825.50,178.06 826.00,178.12 826.50,177.71 827.00,177.91 827.50,178.56 828.00,178.44 828.50,178.10 829.00,178.87 829.50,178.35 830.00,178.70 830.50,178.76 831.00,178.83 831.50,177.98 832.00,178.74 832.50,178.60 833.00,178.43 833.50,177.85 834.00,178.80 834.50,178.36 835.00,178.24 835.50,177.84 836.00,177.92 836.50,177.86 837.00,178.57 837.50,178.40 838.00,178.47 838.50,177.84 839.00,177.75 839.50,178.72 840.00,178.69 840.50,178.62 841.00,178.62 841.50,178.32 842.00,178.19 842.50,178.58 843.00,178.90 843.50,178.40 844.00,178.46 844.50,178.22 845.00,177.76 845.50,178.07 846.00,178.28 846.50,178.16 847.00,178.09 847.50,178.84 848.00,177.82 848.50,177.96 849.00,177.85 849.50,177.94 850.00,178.43 850.50,178.42 851.00,178.78 851.50,178.14 852.00,178.83 852.50,178.82 853.00,178.65 853.50,178.71 854.00,178.49 854.50,178.84 855.00,178.90 855.50,178.72 856.00,178.78 856.50,178.46 857.00,178.87 857.50,177.85 858.00,178.16 858.50,178.72 859.00,178.60 859.50,178.48 860.00,178.46 860.50,178.75 861.00,177.88 861.50,177.71 862.00,178.34 862.50,178.32 863.00,178.80 863.50,178.78 864.00,178.49 864.50,178.58 865.00,177.91 865.50,178.71 866.00,178.87 866.50,177.76 867.00,178.27 867.50,178.72 868.00,178.25 868.50,178.87 869.00,178.27 869.50,177.73 870.00,177.86 870.50,178.06 871.00,178.59 871.50,178.46 872.00,178.70 872.50,177.97 873.00,178.26 873.50,177.97 874.00,178.50 874.50,178.63 875.00,177.93 875.50,177.72 876.00,177.88 876.50,177.93 877.00,177.92 877.50,178.01 878.00,178.63 878.50,178.28 879.00,178.47 879.50,178.87 880.00,178.87 880.50,178.56 881.00,178.59 881.50,178.07 882.00,177.75 882.50,178.36 883.00,177.78 883.50,177.71 884.00,177.75 884.50,178.46 885.00,178.64 885.50,178.63 886.00,178.66 886.50,178.65 887.00,178.15 887.50,177.82 888.00,177.89 888.50,178.32 889.00,178.12 889.50,177.94 890.00,178.80 890.50,178.11 891.00,177.81 891.50,177.96 892.00,178.00 892.50,178.33 893.00,178.69 893.50,177.95 894.00,178.50 894.50,177.94 895.00,177.73 895.50,178.42 896.00,178.42 896.50,177.76 897.00,178.03 897.50,178.70 898.00,178.75 898.50,178.72 899.00,177.81 899.50,177.93 900.00,178.72 900.50,177.91 901.00,177.72 901.50,178.11 902.00,178.48 902.50,178.24 903.00,178.74 903.50,178.88 904.00,177.73 904.50,178.12 905.00,178.27 905.50,177.78 906.00,178.38 906.50,177.85 907.00,177.91 907.50,178.65 908.00,178.60 908.50,178.55 909.00,178.61 909.50,178.20 910.00,178.59 910.50,178.40 911.00,178.74 911.50,177.81 912.00,178.48 912.50,178.35 913.00,178.20 913.50,177.81 914.00,178.40 913.80,178.30" fill="none" stroke="#c80a0a" stroke-opacity="1" stroke-width="1.6" stroke-linejoin="round" filter="url(#sb)"/>
<line x1="913.8" y1="178.30" x2="1059.6" y2="178.30" stroke="#c80a0a" stroke-opacity="0.92" stroke-width="1.5" filter="url(#sb)"/>
<text x="555.21" y="314.20" fill="#000" stroke="#000" stroke-width="0.3" font-size="17">-0.8</text>
<text x="555.21" y="280.90" fill="#000" stroke="#000" stroke-width="0.3" font-size="17">-0.6</text>
<text x="555.21" y="247.60" fill="#000" stroke="#000" stroke-width="0.3" font-size="17">-0.4</text>
<text x="555.21" y="214.30" fill="#000" stroke="#000" stroke-width="0.3" font-size="17">-0.2</text>
<text x="575.05" y="181.00" fill="#000" stroke="#000" stroke-width="0.3" font-size="17">0</text>
<text x="560.87" y="147.70" fill="#000" stroke="#000" stroke-width="0.3" font-size="17">0.2</text>
<text x="560.87" y="114.40" fill="#000" stroke="#000" stroke-width="0.3" font-size="17">0.4</text>
<text x="560.87" y="81.10" fill="#000" stroke="#000" stroke-width="0.3" font-size="17">0.6</text>
<text x="560.87" y="47.80" fill="#000" stroke="#000" stroke-width="0.3" font-size="17">0.8</text>
<text x="586.97" y="351.00" fill="#000" stroke="#000" stroke-width="0.3" font-size="17">0</text>
<text x="628.94" y="351.00" fill="#000" stroke="#000" stroke-width="0.3" font-size="17">50</text>
<text x="670.90" y="351.00" fill="#000" stroke="#000" stroke-width="0.3" font-size="17"> 00</text>
<path d="M763 0L583 0L583 1102C540 1063 483 1023 413 983C343 944 280 914 223 895L223 1062C320 1106 404 1159 477 1221C550 1284 601 1344 631 1409L763 1409Z" transform="translate(670.90,351.00) scale(0.008301,-0.008301)" fill="#000" stroke="#000" stroke-width="36.1"/>
<text x="717.59" y="351.00" fill="#000" stroke="#000" stroke-width="0.3" font-size="17"> 50</text>
<path d="M763 0L583 0L583 1102C540 1063 483 1023 413 983C343 944 280 914 223 895L223 1062C320 1106 404 1159 477 1221C550 1284 601 1344 631 1409L763 1409Z" transform="translate(717.59,351.00) scale(0.008301,-0.008301)" fill="#000" stroke="#000" stroke-width="36.1"/>
<text x="764.28" y="351.00" fill="#000" stroke="#000" stroke-width="0.3" font-size="17">200</text>
<text x="810.97" y="351.00" fill="#000" stroke="#000" stroke-width="0.3" font-size="17">250</text>
<text x="857.66" y="351.00" fill="#000" stroke="#000" stroke-width="0.3" font-size="17">300</text>
<text x="904.35" y="351.00" fill="#000" stroke="#000" stroke-width="0.3" font-size="17">350</text>
<text x="951.04" y="351.00" fill="#000" stroke="#000" stroke-width="0.3" font-size="17">400</text>
<text x="997.73" y="351.00" fill="#000" stroke="#000" stroke-width="0.3" font-size="17">450</text>
<text x="1044.42" y="351.00" fill="#000" stroke="#000" stroke-width="0.3" font-size="17">500</text>
<text x="825.4" y="382.7" text-anchor="middle" fill="#000" stroke="#000" stroke-width="0.3" font-size="16.7">Time (ms)</text>
<text transform="translate(521.4,179) rotate(-90)" text-anchor="middle" fill="#000" stroke="#000" stroke-width="0.3" font-size="16.7">Acceleration (g)</text>
</svg>
</body></html>
